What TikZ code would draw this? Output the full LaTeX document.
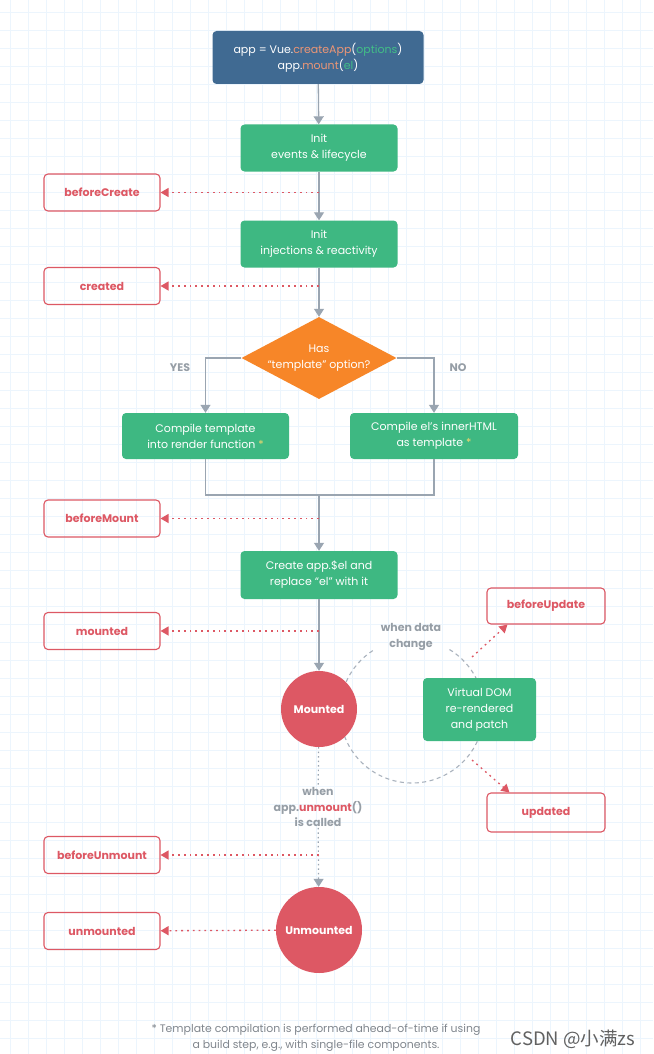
\documentclass[tikz,border=0pt]{standalone}
\usepackage{fontspec}
\setmainfont{Poppins}
\newfontfamily\cjk{Noto Sans CJK SC}
\usetikzlibrary{arrows.meta,shapes.geometric}
\definecolor{appblue}{RGB}{64,106,146}
\definecolor{stepgreen}{RGB}{62,184,130}
\definecolor{hookred}{RGB}{221,88,100}
\definecolor{askorange}{RGB}{247,134,40}
\definecolor{linegray}{RGB}{154,165,177}
\definecolor{notegray}{RGB}{150,158,166}
\definecolor{gridblue}{RGB}{236,245,253}
\definecolor{codesalmon}{RGB}{236,150,118}
\definecolor{codegreen}{RGB}{66,190,135}
\definecolor{stargold}{RGB}{240,215,110}
\begin{document}
\begin{tikzpicture}[x=1pt,y=-1pt,
    font=\fontsize{11}{16}\selectfont,
    phase/.style={fill=stepgreen,text=white,rounded corners=4pt,align=center,
      minimum width=157pt,minimum height=47pt,inner sep=0pt},
    hook/.style={draw=hookred,line width=1.1pt,rounded corners=4pt,text=hookred,
      font=\fontsize{11}{13}\selectfont\bfseries,minimum width=116pt,minimum height=37pt,inner sep=0pt},
    state/.style={circle,fill=hookred,text=white,inner sep=0pt,
      font=\fontsize{11}{13}\selectfont\bfseries},
    note/.style={text=notegray,align=center,font=\fontsize{11}{15.5}\selectfont\bfseries},
    flow/.style={draw=linegray,line width=1.3pt,-{Triangle[length=8pt,width=10pt]}},
    call/.style={draw=hookred,line width=1.3pt,dash pattern=on 1.8pt off 4pt,
      -{Triangle[length=8pt,width=9pt]}},
    wait/.style={draw=linegray,line width=1.2pt,dash pattern=on 1.5pt off 3pt},
    loop/.style={draw=linegray!85,line width=1.1pt,dash pattern=on 4pt off 3.5pt},
  ]
  \fill[white] (0,0) rectangle (653,1054);
  \useasboundingbox (0,0) rectangle (653,1054);
  % grid
  \foreach \i in {0,...,35}
    \draw[gridblue,line width=0.8pt] (10.7+18*\i,0) -- (10.7+18*\i,1054);
  \foreach \j in {0,...,58}
    \draw[gridblue,line width=0.8pt] (0,12+18*\j) -- (653,12+18*\j);

  % update loop
  \coordinate (dc) at (412,711);
  \draw[loop] (dc) ++(-123:72) arc[start angle=-123,end angle=-419.5,radius=72];
  \coordinate (a1) at (472,657);
  \coordinate (a2) at (472,760);

  % nodes
  \node[fill=appblue,text=white,rounded corners=4pt,align=center,minimum width=211pt,
    minimum height=53pt,inner sep=0pt] (app) at (318,57.5)
    {app = Vue.\textcolor{codesalmon}{createApp}(\textcolor{codegreen}{options})\\
     app.\textcolor{codesalmon}{mount}(\textcolor{codegreen}{el})};
  \node[phase] (init1) at (319,148) {Init\\events \& lifecycle};
  \node[phase] (init2) at (319,244) {Init\\injections \& reactivity};
  \node[diamond,fill=askorange,text=white,align=center,inner sep=0pt,aspect=1.9,
    minimum width=155pt,minimum height=82pt] (has) at (319,358)
    {Has\\“template” option?};
  \node[phase,minimum width=167pt,minimum height=46pt] (yes) at (205.5,436)
    {Compile template\\into render function \textcolor{stargold}{*}};
  \node[phase,minimum width=168pt,minimum height=46pt] (no) at (434,436)
    {Compile el’s innerHTML\\as template \textcolor{stargold}{*}};
  \node[phase,minimum height=48pt] (create) at (319,575)
    {Create app.\$el and\\replace “el” with it};
  \node[state,minimum size=76pt] (mtd) at (319,709) {Mounted};
  \node[phase,minimum width=113pt,minimum height=63pt] (vdom) at (479.5,709.5)
    {Virtual DOM\\re-rendered\\and patch};
  \node[state,minimum size=86pt] (umtd) at (319,930) {Unmounted};

  \node[hook] (bc) at (102,192.5) {beforeCreate};
  \node[hook] (cr) at (102,286) {created};
  \node[hook] (bm) at (102,518.5) {beforeMount};
  \node[hook] (mt) at (102,631) {mounted};
  \node[hook,minimum width=118pt,minimum height=36pt] (bu) at (546,606) {beforeUpdate};
  \node[hook,minimum width=118pt,minimum height=39pt] (up) at (546,812.5) {updated};
  \node[hook] (bum) at (102,855) {beforeUnmount};
  \node[hook] (um) at (102,931) {unmounted};

  \node[note] (yeslbl) at (180,368) {YES};
  \node[note] (nolbl) at (458,368) {NO};
  \node[note,inner sep=1pt] (datalbl) at (411,637) {when data\\change};
  \node[note,inner sep=1pt] (umlbl) at (318,807)
    {when\\app.\textcolor{hookred}{unmount}()\\is called};

  \node[text=notegray!85!black,align=center,font=\fontsize{10.9}{16}\selectfont] (foot)
    at (316,1038) {* Template compilation is performed ahead-of-time if using\\
    a build step, e.g., with single-file components.};
  \node[text=black!62,font=\cjk\fontsize{18.5}{20}\selectfont] (mark) at (573,1039)
    {CSDN @小满zs};

  % trunk
  \coordinate (j) at (319,495);
  \begin{scope}[flow]
    \draw (app) -- (init1);
    \draw (init1) -- (init2);
    \draw (init2) -- (has);
    \draw (has.west) -| (yes);
    \draw (has.east) -| (no);
    \draw (j) -- (create);
    \draw (create) -- (mtd);
  \end{scope}
  \draw[linegray,line width=1.3pt] (yes) |- (j) -| (no);
  \draw[wait] (mtd) -- (umlbl);
  \draw[wait,-{Triangle[length=8pt,width=10pt]}] (umlbl) -- (umtd);

  % hooks
  \coordinate (t1) at (319,192.5);
  \coordinate (t2) at (319,286);
  \coordinate (t3) at (319,518.5);
  \coordinate (t4) at (319,631);
  \coordinate (t5) at (319,855);
  \begin{scope}[call]
    \draw (t1) -- (bc);
    \draw (t2) -- (cr);
    \draw (t3) -- (bm);
    \draw (t4) -- (mt);
    \draw (t5) -- (bum);
    \draw (umtd) -- (um);
    \draw (a1) -- ([xshift=21pt]bu.south west);
    \draw (a2) -- ([xshift=23pt]up.north west);
  \end{scope}
\end{tikzpicture}
\end{document}
